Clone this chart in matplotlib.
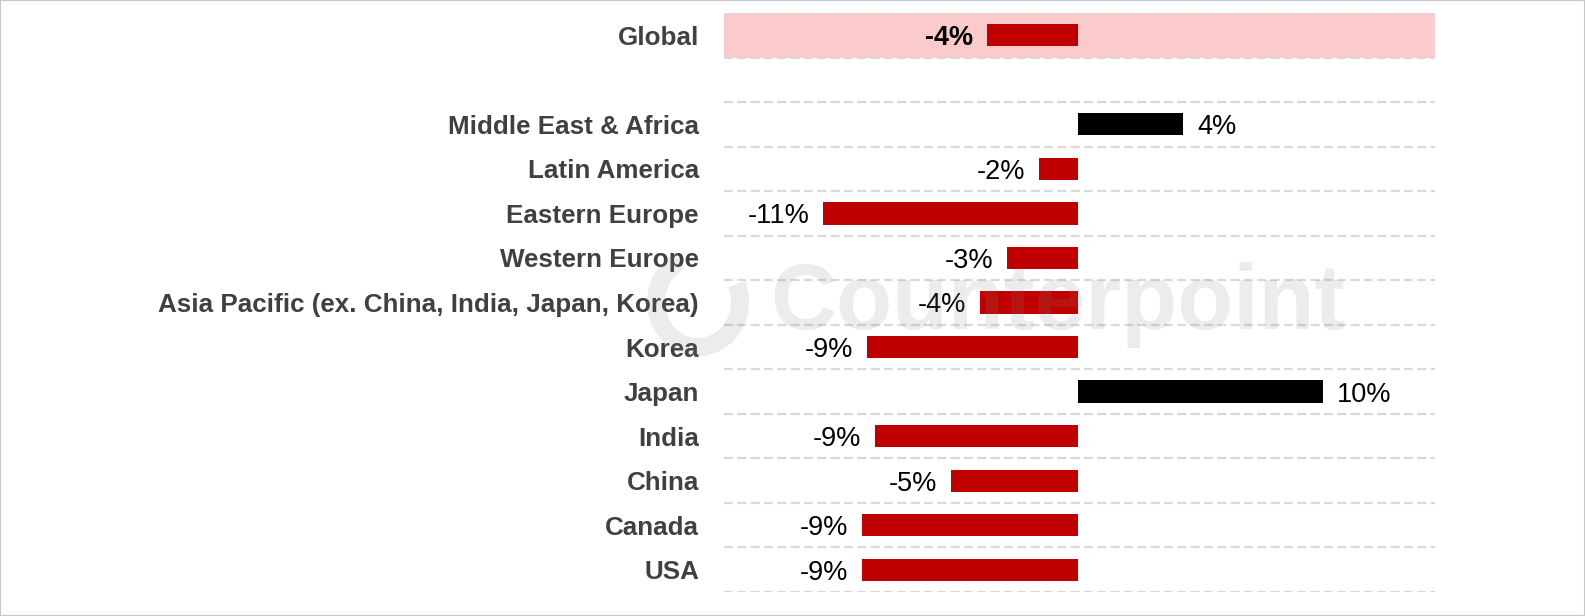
import matplotlib
matplotlib.use("Agg")
import matplotlib.pyplot as plt
from matplotlib.patches import Arc, Rectangle

# regions listed top to bottom, as in the chart
regions = ["Global", "Middle East & Africa", "Latin America", "Eastern Europe",
           "Western Europe", "Asia Pacific (ex. China, India, Japan, Korea)",
           "Korea", "Japan", "India", "China", "Canada", "USA"]
growth = [-3.7, 4.3, -1.6, -10.4, -2.9, -4.0, -8.6, 10.0, -8.3, -5.2, -8.8, -8.8]
value_labels = ["-4%", "4%", "-2%", "-11%", "-3%", "-4%", "-9%", "10%",
                "-9%", "-5%", "-9%", "-9%"]

RED = "#C00000"
BLACK = "#000000"
BAND = "#FBCACA"
GRID = "#d9d9d9"
FONT = "Liberation Sans"

W, H = 1585, 616
fig = plt.figure(figsize=(W / 100, H / 100), dpi=100)
fig.patch.set_facecolor("white")

ax = fig.add_axes([724 / W, 1 - 592 / H, (1435 - 724) / W, (592 - 13) / H])

# slot positions: Global on top, one empty slot, then the regions
n = len(regions)
ypos = [n] + list(range(n - 2, -1, -1))   # 12, 10, 9, ... 0
slots = n + 1

colors = [RED if v < 0 else BLACK for v in growth]
ax.barh(ypos, growth, height=0.5, color=colors, zorder=3)

# pink highlight behind the Global row
ax.axhspan(ypos[0] - 0.5, ypos[0] + 0.5, color=BAND, lw=0, zorder=1)

# dashed separators between slots
for b in range(slots + 1):
    ax.axhline(b - 0.5, color=GRID, lw=1.6, ls=(0, (4, 2)), zorder=2)

for i, (v, y, lbl) in enumerate(zip(growth, ypos, value_labels)):
    off = 10 if v >= 0 else -10
    ax.annotate(lbl, (v, y), xytext=(off, 0), textcoords="offset points",
                ha="left" if v >= 0 else "right", va="center_baseline",
                fontsize=19.5, family=FONT, color="black",
                fontweight="bold" if i == 0 else "normal", zorder=4)

ax.set_xlim(-14.45, 14.57)
ax.set_ylim(-0.5, slots - 0.5)
ax.set_yticks(ypos)
ax.set_yticklabels(regions, fontsize=18.7, family=FONT, fontweight="bold",
                   color="#404040")
ax.tick_params(axis="y", length=0, pad=18)
ax.set_xticks([])
for s in ax.spines.values():
    s.set_visible(False)
ax.set_facecolor("none")

# faint watermark
fig.text(1058 / W, 1 - 305 / H, "Counterpoint", fontsize=66, family=FONT,
         fontweight="bold", color="#808080", alpha=0.15, ha="center",
         va="center", zorder=10)
fig.add_artist(Arc((698 / W, 1 - 302 / H), 84 / W, 90 / H, theta1=100,
                   theta2=410, lw=13, color="#808080", alpha=0.15,
                   transform=fig.transFigure, zorder=10))

# thin frame around the picture
fig.add_artist(Rectangle((0, 0), 1, 1, transform=fig.transFigure, fill=False,
                         edgecolor="#c8c8c8", lw=1.5, zorder=20))

fig.savefig("out.png", dpi=100)
